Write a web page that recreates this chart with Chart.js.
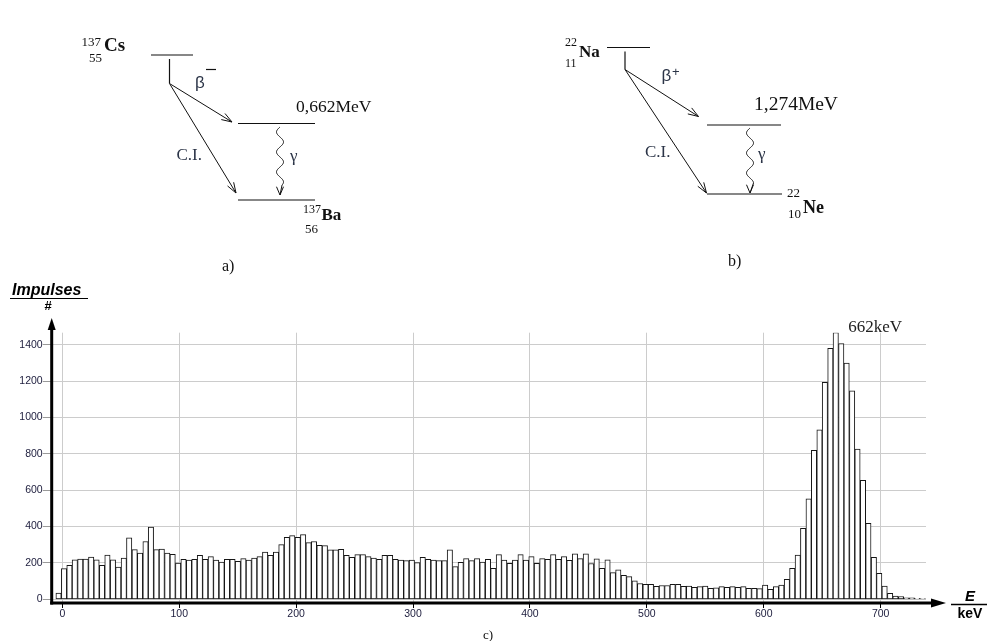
<!DOCTYPE html>
<html><head><meta charset="utf-8">
<script src="https://cdn.jsdelivr.net/npm/chart.js@4/dist/chart.umd.min.js"></script>
<style>html,body{margin:0;padding:0;background:#fff;overflow:hidden}#wrap{width:987px;height:641px;position:relative}</style>
</head><body><div id="wrap"><canvas id="c" width="987" height="641"></canvas></div>
<script>
// Histogram bin centres (keV)
const energyKeV = [-3.2,1.5,6.1,10.7,15.4,20.0,24.7,29.3,34.0,38.6,
43.3,47.9,52.6,57.2,61.9,66.5,71.2,75.8,80.5,85.1,
89.8,94.4,99.1,103.7,108.4,113.0,117.7,122.3,127.0,131.6,
136.3,140.9,145.6,150.2,154.9,159.5,164.2,168.8,173.5,178.1,
182.8,187.4,192.1,196.7,201.4,206.0,210.7,215.3,220.0,224.6,
229.3,233.9,238.5,243.2,247.8,252.5,257.1,261.8,266.4,271.1,
275.7,280.4,285.0,289.7,294.3,299.0,303.6,308.3,312.9,317.6,
322.2,326.9,331.5,336.2,340.8,345.5,350.1,354.8,359.4,364.1,
368.7,373.4,378.0,382.7,387.3,392.0,396.6,401.3,405.9,410.6,
415.2,419.9,424.5,429.2,433.8,438.5,443.1,447.8,452.4,457.1,
461.7,466.4,471.0,475.6,480.3,484.9,489.6,494.2,498.9,503.5,
508.2,512.8,517.5,522.1,526.8,531.4,536.1,540.7,545.4,550.0,
554.7,559.3,564.0,568.6,573.3,577.9,582.6,587.2,591.9,596.5,
601.2,605.8,610.5,615.1,619.8,624.4,629.1,633.7,638.4,643.0,
647.7,652.3,657.0,661.6,666.3,670.9,675.6,680.2,684.9,689.5,
694.2,698.8,703.4,708.1,712.7,717.4,722.0,726.7,731.3,736.0];
// Impulses per bin
const impulses = [35,169,187,218,222,222,233,218,187,244,
218,178,227,338,273,255,318,398,273,276,
255,247,200,220,216,220,242,220,235,216,
205,220,220,209,224,216,227,235,260,242,
260,301,341,350,341,356,312,318,297,295,
272,272,275,242,231,246,246,235,227,220,
242,242,220,216,213,216,202,231,220,216,
213,213,272,180,204,224,213,224,205,220,
171,246,216,198,216,246,216,235,198,224,
220,246,220,235,214,250,224,250,197,223,
170,218,147,163,132,125,102,87,83,83,
72,76,76,82,83,71,73,66,70,73,
61,64,70,66,70,66,70,61,61,59,
79,55,70,79,110,171,244,391,552,820,
932,1193,1380,1466,1406,1299,1147,826,655,418,
231,143,73,33,18,15,9,9,6,4];
const xTickValues = [0,100,200,300,400,500,600,700];
const yTickValues = [0,200,400,600,800,1000,1200,1400];
const peakEnergy = 662;
const peakLabel = '662keV';
const yAxisTitle = 'Impulses';
const xAxisTitle = 'E';
const xAxisUnit = 'keV';

const SERIF = '"Liberation Serif", "Times New Roman", serif';
const SANS = '"Liberation Sans", Arial, sans-serif';

function arrowHead(ctx, x1, y1, x2, y2, len, ang) {
  const a = Math.atan2(y2 - y1, x2 - x1);
  ctx.beginPath();
  ctx.moveTo(x2 - len * Math.cos(a - ang), y2 - len * Math.sin(a - ang));
  ctx.lineTo(x2, y2);
  ctx.lineTo(x2 - len * Math.cos(a + ang), y2 - len * Math.sin(a + ang));
  ctx.stroke();
}
function arrow(ctx, x1, y1, x2, y2) {
  ctx.beginPath(); ctx.moveTo(x1, y1); ctx.lineTo(x2, y2); ctx.stroke();
  arrowHead(ctx, x1, y1, x2, y2, 11, 0.33);
}
function wavy(ctx, x, y1, y2) {
  ctx.beginPath();
  const end = y2 - 10;
  for (let y = y1; y <= end; y += 0.5) {
    const t = (y - y1) / 20;
    const xx = x + 3.5 * Math.sin(t * 2 * Math.PI + Math.PI);
    if (y === y1) ctx.moveTo(xx, y); else ctx.lineTo(xx, y);
  }
  ctx.lineTo(x, y2);
  ctx.stroke();
  arrowHead(ctx, x, y2 - 10, x, y2, 9, 0.4);
}
function txt(ctx, s, x, y, font, color, align) {
  ctx.font = font; ctx.fillStyle = color || '#111';
  ctx.textAlign = align || 'left'; ctx.textBaseline = 'alphabetic';
  ctx.fillText(s, x, y);
}
function hline(ctx, x1, x2, y) { ctx.beginPath(); ctx.moveTo(x1, y); ctx.lineTo(x2, y); ctx.stroke(); }

const decorations = {
  id: 'decorations',
  afterDraw(chart) {
    const ctx = chart.ctx;
    const ca = chart.chartArea;
    const xs = chart.scales.x, ys = chart.scales.y;
    ctx.save();
    // axes
    ctx.strokeStyle = '#000'; ctx.fillStyle = '#000'; ctx.lineWidth = 3;
    ctx.beginPath(); ctx.moveTo(ca.left, ca.bottom + 1.5); ctx.lineTo(ca.left, 327); ctx.stroke();
    ctx.beginPath(); ctx.moveTo(ca.left, 318); ctx.lineTo(ca.left - 4, 330); ctx.lineTo(ca.left + 4, 330); ctx.closePath(); ctx.fill();
    ctx.beginPath(); ctx.moveTo(ca.left - 1.5, ca.bottom); ctx.lineTo(933, ca.bottom); ctx.stroke();
    ctx.beginPath(); ctx.moveTo(946, ca.bottom); ctx.lineTo(931, ca.bottom - 4.5); ctx.lineTo(931, ca.bottom + 4.5); ctx.closePath(); ctx.fill();
    // axis titles
    txt(ctx, yAxisTitle, 12, 295, 'bold italic 16px ' + SANS, '#000');
    ctx.lineWidth = 1.2; hline(ctx, 10, 88, 298.5);
    txt(ctx, '#', 48, 310, 'bold 13px ' + SANS, '#000', 'center');
    txt(ctx, xAxisTitle, 970, 601, 'bold italic 15px ' + SANS, '#000', 'center');
    ctx.lineWidth = 1.5; hline(ctx, 951, 987, 604.5);
    txt(ctx, xAxisUnit, 970, 618, 'bold 14px ' + SANS, '#000', 'center');
    txt(ctx, 'c)', 488, 639, '13px ' + SERIF, '#111', 'center');
    // peak label
    txt(ctx, peakLabel, xs.getPixelForValue(peakEnergy) + 12, ys.getPixelForValue(1466) - 1, '17px ' + SERIF, '#222');

    // ---- decay scheme a) Cs-137 ----
    ctx.strokeStyle = '#111'; ctx.lineWidth = 1.2;
    txt(ctx, '137', 101, 46, '13px ' + SERIF, '#111', 'right');
    txt(ctx, '55', 102, 62, '13px ' + SERIF, '#111', 'right');
    txt(ctx, 'Cs', 104, 51, 'bold 19px ' + SERIF, '#111');
    hline(ctx, 151, 193, 55);
    ctx.beginPath(); ctx.moveTo(169.5, 59); ctx.lineTo(169.5, 83.5); ctx.stroke();
    ctx.lineWidth = 1;
    arrow(ctx, 169.5, 83.5, 232, 122);
    arrow(ctx, 169.5, 83.5, 236, 193);
    ctx.lineWidth = 1.2;
    hline(ctx, 238, 315, 123.5);
    hline(ctx, 238, 315, 200);
    txt(ctx, '0,662MeV', 296, 112, '17.5px ' + SERIF, '#111');
    ctx.lineWidth = 1; wavy(ctx, 280, 127, 195);
    txt(ctx, 'β', 195, 88, '17px ' + SANS, '#2b3447');
    ctx.lineWidth = 1.2; hline(ctx, 206, 216, 69.5);
    txt(ctx, 'γ', 290, 161, '17px ' + SERIF, '#2b3447');
    txt(ctx, 'C.I.', 176.5, 160, '17px ' + SERIF, '#2b3447');
    txt(ctx, '137', 303, 213, '12px ' + SERIF, '#111');
    txt(ctx, '56', 305, 233, '13px ' + SERIF, '#111');
    txt(ctx, 'Ba', 321.5, 220, 'bold 17px ' + SERIF, '#111');
    txt(ctx, 'a)', 222, 271, '16px ' + SERIF, '#111');

    // ---- decay scheme b) Na-22 ----
    ctx.lineWidth = 1.2;
    txt(ctx, '22', 565, 46, '12px ' + SERIF, '#111');
    txt(ctx, '11', 565, 67, '12px ' + SERIF, '#111');
    txt(ctx, 'Na', 579, 57, 'bold 17px ' + SERIF, '#111');
    hline(ctx, 607, 650, 47.5);
    ctx.beginPath(); ctx.moveTo(625, 51.5); ctx.lineTo(625, 69.5); ctx.stroke();
    ctx.lineWidth = 1;
    arrow(ctx, 625, 69.5, 698.5, 116.5);
    arrow(ctx, 625, 69.5, 706.5, 193);
    ctx.lineWidth = 1.2;
    hline(ctx, 707, 781, 125);
    hline(ctx, 707, 782, 194);
    txt(ctx, '1,274MeV', 754, 110, '19.5px ' + SERIF, '#111');
    ctx.lineWidth = 1; wavy(ctx, 750, 128, 193);
    txt(ctx, 'β', 661.5, 81, '17px ' + SANS, '#2b3447');
    txt(ctx, '+', 672, 76, '13px ' + SANS, '#2b3447');
    txt(ctx, 'γ', 758, 159, '17px ' + SERIF, '#2b3447');
    txt(ctx, 'C.I.', 645, 156.5, '17px ' + SERIF, '#2b3447');
    txt(ctx, '22', 787, 197, '13px ' + SERIF, '#111');
    txt(ctx, '10', 788, 218, '13px ' + SERIF, '#111');
    txt(ctx, 'Ne', 803, 213, 'bold 18px ' + SERIF, '#111');
    txt(ctx, 'b)', 728, 266, '16px ' + SERIF, '#111');
    ctx.restore();
  }
};

new Chart(document.getElementById('c'), {
  type: 'bar',
  data: {
    datasets: [{
      data: energyKeV.map((e, i) => ({ x: e, y: impulses[i] })),
      backgroundColor: '#ffffff',
      borderColor: '#151515',
      borderWidth: 1,
      borderSkipped: false,
      barPercentage: 1,
      categoryPercentage: 1
    }]
  },
  options: {
    responsive: false,
    animation: false,
    devicePixelRatio: 1,
    layout: { padding: { left: 0, right: 61, top: 332.7, bottom: 8 } },
    plugins: { legend: { display: false }, tooltip: { enabled: false } },
    scales: {
      x: {
        type: 'linear', min: -9.07, max: 738.8, offset: false,
        afterBuildTicks: s => { s.ticks = xTickValues.map(v => ({ value: v })); },
        afterFit: s => { s.height = 30; },
        ticks: { autoSkip: false, maxRotation: 0, padding: 0, color: '#1c1c3c', font: { family: SANS, size: 10.5 },
                 callback: v => String(v) },
        grid: { offset: false, color: '#cccccc', lineWidth: 1, tickColor: '#000', tickLength: 5 },
        border: { display: false }
      },
      y: {
        min: -20, max: 1466,
        afterBuildTicks: s => { s.ticks = yTickValues.map(v => ({ value: v })); },
        afterFit: s => { s.width = 51.7; },
        ticks: { padding: 0, color: '#1c1c3c', font: { family: SANS, size: 10.5 }, callback: v => String(v) },
        grid: { color: '#cccccc', lineWidth: 1, tickColor: '#9a9a9a', tickLength: 9 },
        border: { display: false }
      }
    }
  },
  plugins: [decorations]
});
</script>
</body></html>
